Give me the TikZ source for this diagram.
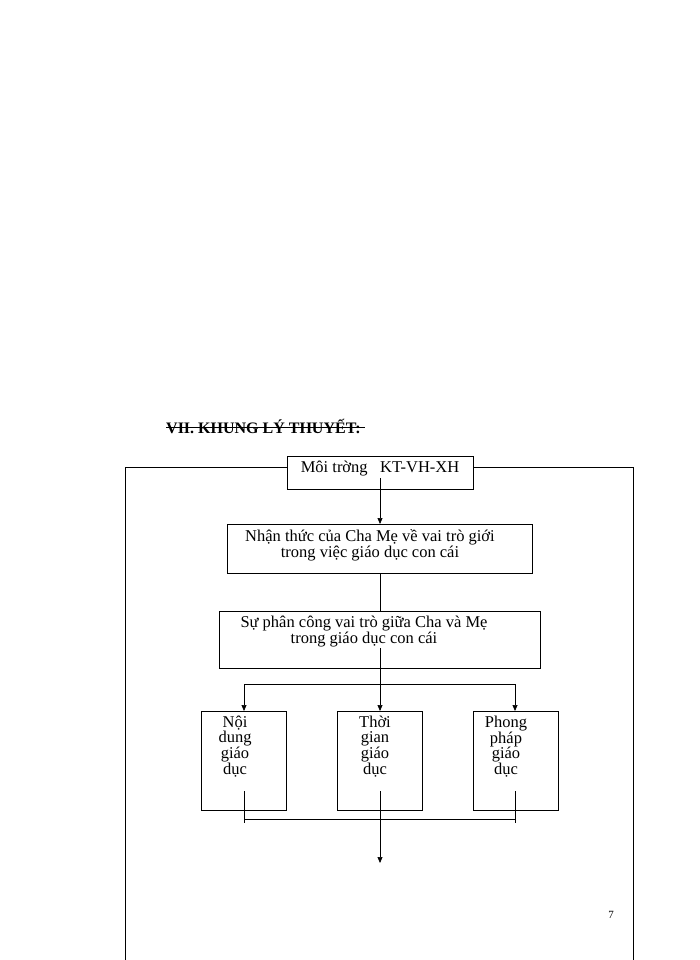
\documentclass[tikz,border=0pt]{standalone}
\usepackage{fontspec}
\setmainfont{Liberation Serif}
\usetikzlibrary{arrows.meta}
\begin{document}
\begin{tikzpicture}[x=1pt,y=-1pt,
  bx/.style={draw,line width=0.7pt},
  ln/.style={line width=0.7pt},
  ar/.style={ln,-{Triangle[length=6pt,width=5pt]}},
  txt/.style={font=\fontsize{16.5}{15}\selectfont,inner sep=0pt}]
\useasboundingbox (0,0) rectangle (700,960);
\node[anchor=west,inner sep=0pt,font=\bfseries\fontsize{16}{17}\selectfont] (head) at (166,426) {VII. KHUNG LÝ THUYẾT:\ \ };
\draw[line width=1pt] (head.west) ++(0,1) -- ([yshift=-1pt]head.east);
% outer frame
\coordinate (ftl) at (125,467); \coordinate (ftr) at (633,467);
\coordinate (fbl) at (125,960); \coordinate (fbr) at (633,960);
\node[bx,minimum width=186pt,minimum height=33pt] (b1) at (380,472.5) {};
\node[txt] at (380,469) {Môi trờng\ \ \ KT-VH-XH};
\draw[ln] (b1.west) ++(0,-5.5) -- (ftl) -- (fbl);
\draw[ln] (b1.east) ++(0,-5.5) -- (ftr) -- (fbr);
\node[bx,minimum width=305pt,minimum height=49pt] (b2) at (379.5,548.5) {};
\node[txt,align=center] at (370,545) {Nhận thức của Cha Mẹ về vai trò giới\\trong việc giáo dục con cái};
\node[bx,minimum width=321pt,minimum height=57pt] (b3) at (379.5,639.5) {};
\node[txt,align=center] at (364,632) {Sự phân công vai trò giữa Cha và Mẹ\\trong giáo dục con cái};
\draw[ar] (380,478) -- (380,524);
\draw[ln] (380,573) -- (380,611);
\node[bx,minimum width=85pt,minimum height=99pt] (c1) at (243.5,760.5) {};
\node[bx,minimum width=85pt,minimum height=99pt] (c2) at (379.5,760.5) {};
\node[bx,minimum width=85pt,minimum height=99pt] (c3) at (515.5,760.5) {};
\node[txt,align=center,anchor=north] at (235,716) {Nội\\dung\\giáo\\dục};
\node[txt,align=center,anchor=north] at (375,716) {Thời\\gian\\giáo\\dục};
\node[txt,align=center,anchor=north] at (506,716) {Phong\\pháp\\giáo\\dục};
\coordinate (h1) at (244,684); \coordinate (h3) at (515,684);
\draw[ar] (380,648) -- (380,711);
\draw[ln] (h1) -- (h3);
\draw[ar] (h1) -- (244,711);
\draw[ar] (h3) -- (515,711);
\draw[ln] (244,791) -- (244,823);
\draw[ln] (515,791) -- (515,823);
\draw[ln] (244,819) -- (515,819);
\draw[ar] (380,791) -- (380,863);
\node[txt,font=\fontsize{11}{12}\selectfont] (pg) at (611,915) {7};
\end{tikzpicture}
\end{document}
